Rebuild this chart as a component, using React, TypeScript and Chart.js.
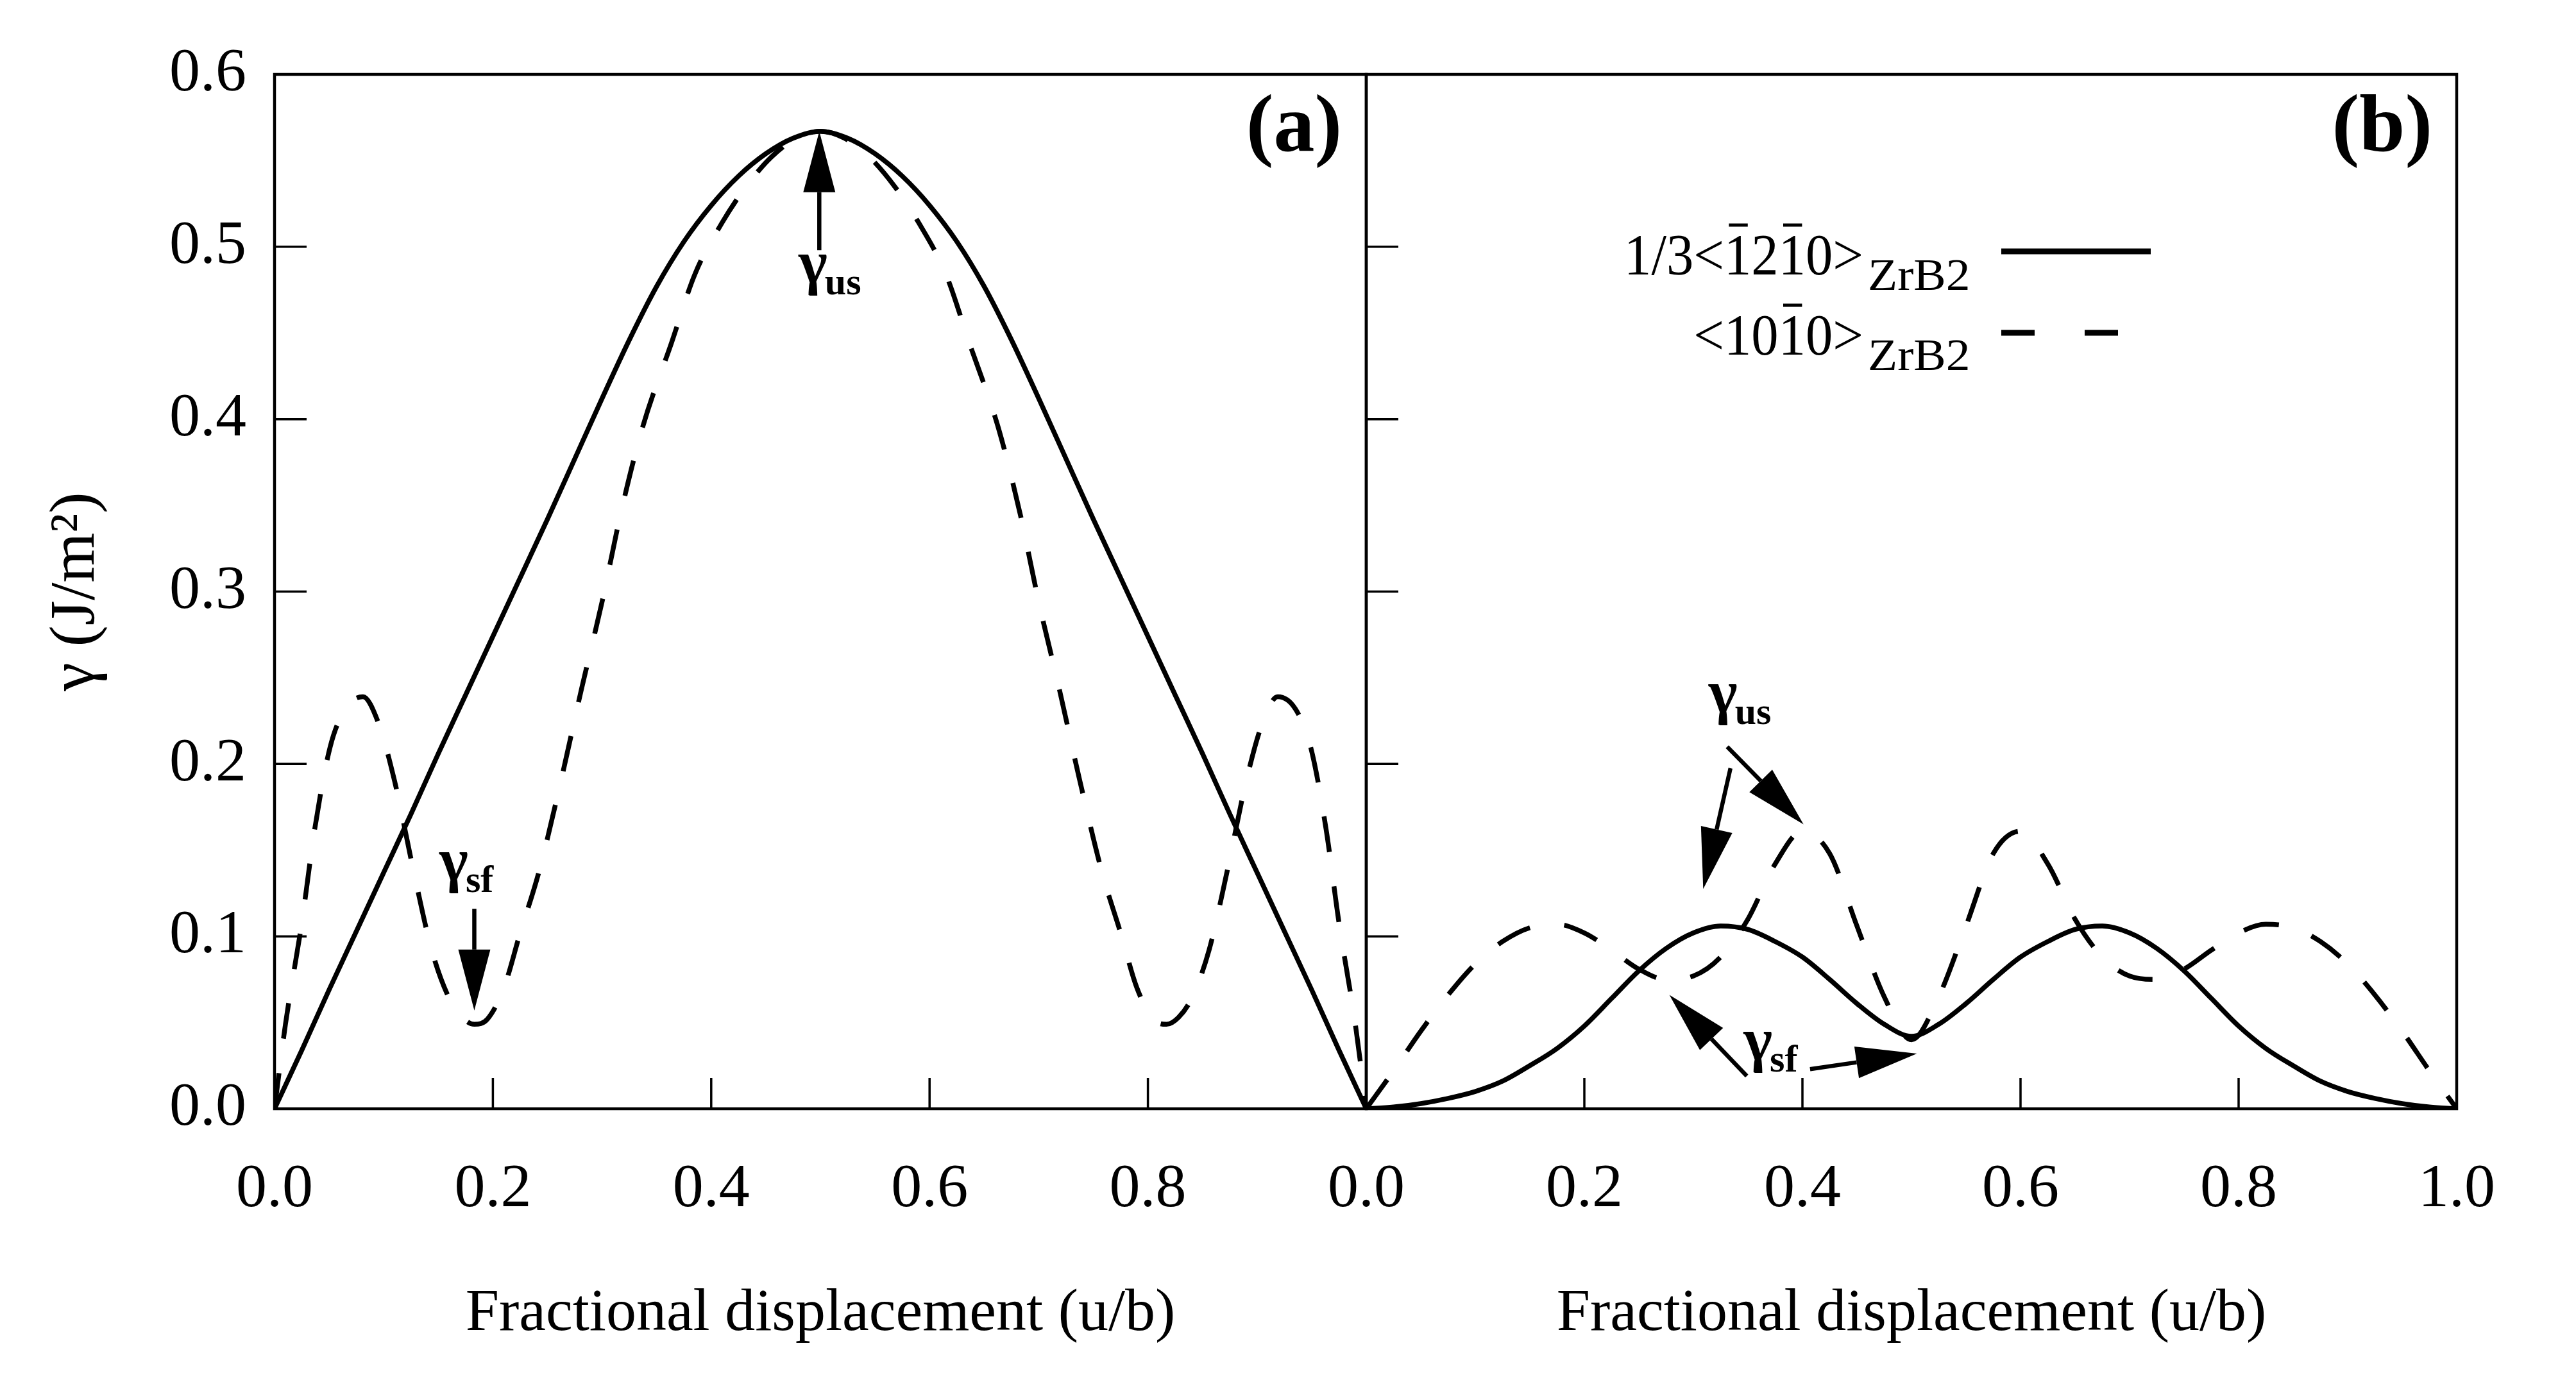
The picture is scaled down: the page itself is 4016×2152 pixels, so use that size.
import React, { useEffect, useRef } from 'react';
import Chart from 'chart.js/auto';

const W = 4016;
const H = 2152;
const SERIF = "'Liberation Serif', 'Times New Roman', Times, serif";

// fractional displacement grid (u/b)
const uGrid = [
  0, 0.025, 0.05, 0.075, 0.1, 0.125, 0.15, 0.175, 0.2, 0.225, 0.25, 0.275, 0.3, 0.325, 0.35, 0.375, 0.4,
  0.425, 0.45, 0.475, 0.5, 0.525, 0.55, 0.575, 0.6, 0.625, 0.65, 0.675, 0.7, 0.725, 0.75, 0.775, 0.8,
  0.825, 0.85, 0.875, 0.9, 0.925, 0.95, 0.975, 1,
];

// panel (a), solid: 1/3<-12-10>
const aSolid = [
  0, 0.034, 0.069, 0.103, 0.137, 0.171, 0.206, 0.24, 0.274, 0.308, 0.342, 0.377, 0.412, 0.446, 0.477, 0.503,
  0.524, 0.541, 0.554, 0.563, 0.567, 0.563, 0.554, 0.541, 0.524, 0.503, 0.477, 0.446, 0.412, 0.377, 0.342,
  0.308, 0.274, 0.24, 0.206, 0.171, 0.137, 0.103, 0.069, 0.034, 0,
];

// panel (a), dashed: <10-10>
const aDashX = [
  0, 0.01, 0.025, 0.037, 0.051, 0.065, 0.081, 0.095, 0.11, 0.127, 0.144, 0.16, 0.172, 0.183, 0.195, 0.21,
  0.225, 0.242, 0.263, 0.281, 0.3, 0.317, 0.337, 0.364, 0.385, 0.41, 0.432, 0.455, 0.478, 0.5,
  0.522, 0.545, 0.568, 0.59, 0.615, 0.636, 0.663, 0.683, 0.7, 0.719, 0.737, 0.758, 0.775, 0.79, 0.805,
  0.817, 0.828, 0.84, 0.856, 0.873, 0.89, 0.905, 0.919, 0.935, 0.949, 0.963, 0.975, 0.99, 1,
];
const aDashY = [
  0, 0.049, 0.108, 0.163, 0.21, 0.232, 0.239, 0.224, 0.19, 0.139, 0.092, 0.064, 0.053, 0.049, 0.052, 0.07,
  0.102, 0.137, 0.192, 0.243, 0.294, 0.345, 0.395, 0.445, 0.484, 0.514, 0.535, 0.552, 0.563, 0.567,
  0.563, 0.552, 0.535, 0.514, 0.484, 0.445, 0.395, 0.345, 0.294, 0.243, 0.192, 0.137, 0.102, 0.07, 0.052,
  0.049, 0.053, 0.064, 0.092, 0.139, 0.19, 0.224, 0.239, 0.232, 0.21, 0.163, 0.108, 0.049, 0,
];

// panel (b), solid and dashed
const bSolid = [
  0, 0.001, 0.003, 0.006, 0.01, 0.016, 0.025, 0.035, 0.048, 0.064, 0.08, 0.093, 0.102, 0.106, 0.104, 0.097,
  0.088, 0.075, 0.061, 0.049, 0.042, 0.049, 0.061, 0.075, 0.088, 0.097, 0.104, 0.106, 0.102, 0.093, 0.08,
  0.064, 0.048, 0.035, 0.025, 0.016, 0.01, 0.006, 0.003, 0.001, 0,
];
const bDashed = [
  0, 0.022, 0.045, 0.066, 0.084, 0.097, 0.105, 0.107, 0.102, 0.092, 0.081, 0.075, 0.077, 0.088, 0.11, 0.142,
  0.161, 0.148, 0.106, 0.065, 0.04, 0.065, 0.106, 0.148, 0.161, 0.142, 0.11, 0.088, 0.077, 0.075, 0.081,
  0.092, 0.102, 0.107, 0.105, 0.097, 0.084, 0.066, 0.045, 0.022, 0,
];

const xTickValues = [0, 0.2, 0.4, 0.6, 0.8, 1];
const yTickValues = [0, 0.1, 0.2, 0.3, 0.4, 0.5, 0.6];

const legendText = ['1/3<1210>', '<1010>'];
const legendBars = [[4, 6], [3]];
const legendSub = 'ZrB2';

// annotation anchors in data units: gamma labels and arrows [x1, y1, x2, y2]
const notesA = {
  labels: [
    { x: 0.48, y: 0.479, sub: 'us' },
    { x: 0.151, y: 0.1324, sub: 'sf' },
  ],
  arrows: [
    [0.499, 0.498, 0.499, 0.567],
    [0.183, 0.116, 0.183, 0.057],
  ],
};
const notesB = {
  labels: [
    { x: 0.314, y: 0.23, sub: 'us' },
    { x: 0.346, y: 0.0283, sub: 'sf' },
  ],
  arrows: [
    [0.334, 0.1975, 0.309, 0.1275],
    [0.331, 0.21, 0.401, 0.165],
    [0.349, 0.019, 0.278, 0.066],
    [0.407, 0.023, 0.505, 0.032],
  ],
};

const pts = (xs: number[], ys: number[]) => xs.map((x, i) => ({ x, y: ys[i] }));

function drawArrow(ctx: CanvasRenderingContext2D, x1: number, y1: number, x2: number, y2: number) {
  const ang = Math.atan2(y2 - y1, x2 - x1);
  const hl = 95;
  const hw = 25;
  const bx = x2 - hl * Math.cos(ang);
  const by = y2 - hl * Math.sin(ang);
  ctx.lineWidth = 6.5;
  ctx.beginPath();
  ctx.moveTo(x1, y1);
  ctx.lineTo(bx, by);
  ctx.stroke();
  ctx.beginPath();
  ctx.moveTo(x2, y2);
  ctx.lineTo(bx + hw * Math.sin(ang), by - hw * Math.cos(ang));
  ctx.lineTo(bx - hw * Math.sin(ang), by + hw * Math.cos(ang));
  ctx.closePath();
  ctx.fill();
}

function drawGamma(ctx: CanvasRenderingContext2D, x: number, y: number, sub: string) {
  ctx.textAlign = 'left';
  ctx.textBaseline = 'alphabetic';
  ctx.font = `bold 96px ${SERIF}`;
  ctx.fillText('γ', x, y);
  const w = ctx.measureText('γ').width;
  ctx.font = `bold 60px ${SERIF}`;
  ctx.fillText(sub, x + w - 4, y + 18);
}

function drawLegend(ctx: CanvasRenderingContext2D, ca: any) {
  const L = ca.left;
  const T = ca.top;
  const right = L + 775;
  const rows = [
    { base: T + 312, lineY: T + 276, dash: false },
    { base: T + 437, lineY: T + 403, dash: true },
  ];
  rows.forEach((r, k) => {
    const text = legendText[k];
    const sx = 0.92;
    ctx.font = `92px ${SERIF}`;
    ctx.textAlign = 'left';
    ctx.textBaseline = 'alphabetic';
    const w = ctx.measureText(text).width * sx;
    ctx.save();
    ctx.translate(right - w, r.base);
    ctx.scale(sx, 1);
    ctx.fillText(text, 0, 0);
    ctx.lineWidth = 5;
    legendBars[k].forEach((i) => {
      const a = ctx.measureText(text.slice(0, i)).width;
      const b = ctx.measureText(text.slice(0, i + 1)).width;
      ctx.beginPath();
      ctx.moveTo(a + 8, -77);
      ctx.lineTo(b - 6, -77);
      ctx.stroke();
    });
    ctx.restore();

    ctx.save();
    ctx.font = `70px ${SERIF}`;
    ctx.translate(right + 7, r.base + 24);
    ctx.scale(1.08, 1);
    ctx.fillText(legendSub, 0, 0);
    ctx.restore();

    ctx.save();
    ctx.lineWidth = 9;
    if (r.dash) ctx.setLineDash([52, 78]);
    ctx.beginPath();
    ctx.moveTo(L + 990, r.lineY);
    ctx.lineTo(r.dash ? L + 1172 : L + 1223, r.lineY);
    ctx.stroke();
    ctx.restore();
  });
}

function decorPlugin(panel: 'a' | 'b') {
  const notes = panel === 'a' ? notesA : notesB;
  return {
    id: 'decor' + panel,
    afterDatasetsDraw(chart: any) {
      const { ctx, chartArea: ca, scales } = chart;
      const X = (v: number) => scales.x.getPixelForValue(v);
      const Y = (v: number) => scales.y.getPixelForValue(v);
      ctx.save();
      ctx.strokeStyle = '#000';
      ctx.fillStyle = '#000';

      // frame
      ctx.lineWidth = 4.5;
      ctx.strokeRect(ca.left, ca.top, ca.right - ca.left, ca.bottom - ca.top);

      // inward ticks
      ctx.lineWidth = 3.5;
      ctx.beginPath();
      xTickValues.slice(1, -1).forEach((v) => {
        ctx.moveTo(X(v), ca.bottom);
        ctx.lineTo(X(v), ca.bottom - 48);
      });
      yTickValues.slice(1, -1).forEach((v) => {
        ctx.moveTo(ca.left, Y(v));
        ctx.lineTo(ca.left + 50, Y(v));
      });
      ctx.stroke();

      notes.arrows.forEach(([x1, y1, x2, y2]) => drawArrow(ctx, X(x1), Y(y1), X(x2), Y(y2)));
      notes.labels.forEach((l) => drawGamma(ctx, X(l.x), Y(l.y), l.sub));

      ctx.font = `bold 128px ${SERIF}`;
      ctx.textAlign = 'right';
      ctx.textBaseline = 'alphabetic';
      ctx.fillText(panel === 'a' ? '(a)' : '(b)', ca.right - 38, ca.top + 119);

      if (panel === 'b') drawLegend(ctx, ca);
      ctx.restore();
    },
  };
}

function makeConfig(panel: 'a' | 'b'): any {
  const solid = panel === 'a' ? pts(uGrid, aSolid) : pts(uGrid, bSolid);
  const dashed = panel === 'a' ? pts(aDashX, aDashY) : pts(uGrid, bDashed);
  const tickFont = { family: SERIF, size: 96 };
  return {
    type: 'line',
    data: {
      datasets: [
        {
          label: '1/3<-12-10> ZrB2',
          data: solid,
          borderColor: '#000',
          borderWidth: 7.5,
          pointRadius: 0,
          fill: false,
          cubicInterpolationMode: 'monotone',
        },
        {
          label: '<10-10> ZrB2',
          data: dashed,
          borderColor: '#000',
          borderWidth: 7.5,
          borderDash: [56, 54],
          pointRadius: 0,
          fill: false,
          cubicInterpolationMode: 'monotone',
        },
      ],
    },
    options: {
      animation: false,
      responsive: false,
      devicePixelRatio: 1,
      events: [],
      layout: {
        padding:
          panel === 'a'
            ? { left: 0, top: 116, right: W - 2130, bottom: 0 }
            : { left: 2130, top: 116, right: W - 3830, bottom: 0 },
      },
      plugins: { legend: { display: false }, tooltip: { enabled: false } },
      scales: {
        x: {
          type: 'linear',
          min: 0,
          max: 1,
          afterFit: (s: any) => {
            s.height = 423;
          },
          afterBuildTicks: (s: any) => {
            s.ticks = xTickValues.map((value) => ({ value }));
          },
          grid: { display: false, drawTicks: false },
          border: { display: false },
          ticks: {
            autoSkip: false,
            maxRotation: 0,
            padding: 69,
            color: '#000',
            font: tickFont,
            callback: (v: number) => (panel === 'a' && Math.abs(v - 1) < 1e-9 ? '' : Number(v).toFixed(1)),
          },
          title: {
            display: true,
            text: 'Fractional displacement (u/b)',
            color: '#000',
            font: { family: SERIF, size: 94 },
            padding: { top: 0, bottom: 46 },
          },
        },
        y:
          panel === 'a'
            ? {
                min: 0,
                max: 0.6,
                afterFit: (s: any) => {
                  s.width = 428;
                },
                afterBuildTicks: (s: any) => {
                  s.ticks = yTickValues.map((value) => ({ value }));
                },
                grid: { display: false, drawTicks: false },
                border: { display: false },
                ticks: {
                  padding: 44,
                  color: '#000',
                  font: tickFont,
                  callback: (v: number) => Number(v).toFixed(1),
                },
                title: {
                  display: true,
                  text: 'γ (J/m²)',
                  color: '#000',
                  font: { family: SERIF, size: 100 },
                  padding: { top: 60, bottom: 0 },
                },
              }
            : { display: false, min: 0, max: 0.6 },
      },
    },
    plugins: [decorPlugin(panel)],
  };
}

export default function App() {
  const refA = useRef<HTMLCanvasElement>(null);
  const refB = useRef<HTMLCanvasElement>(null);

  useEffect(() => {
    document.body.style.margin = '0';
    const charts: Chart[] = [];
    if (refA.current) charts.push(new Chart(refA.current, makeConfig('a')));
    if (refB.current) charts.push(new Chart(refB.current, makeConfig('b')));
    return () => {
      charts.forEach((c) => c.destroy());
    };
  }, []);

  return (
    <div style={{ position: 'relative', width: W, height: H, background: '#fff' }}>
      <canvas ref={refA} width={W} height={H} style={{ position: 'absolute', left: 0, top: 0 }} />
      <canvas ref={refB} width={W} height={H} style={{ position: 'absolute', left: 0, top: 0 }} />
    </div>
  );
}
